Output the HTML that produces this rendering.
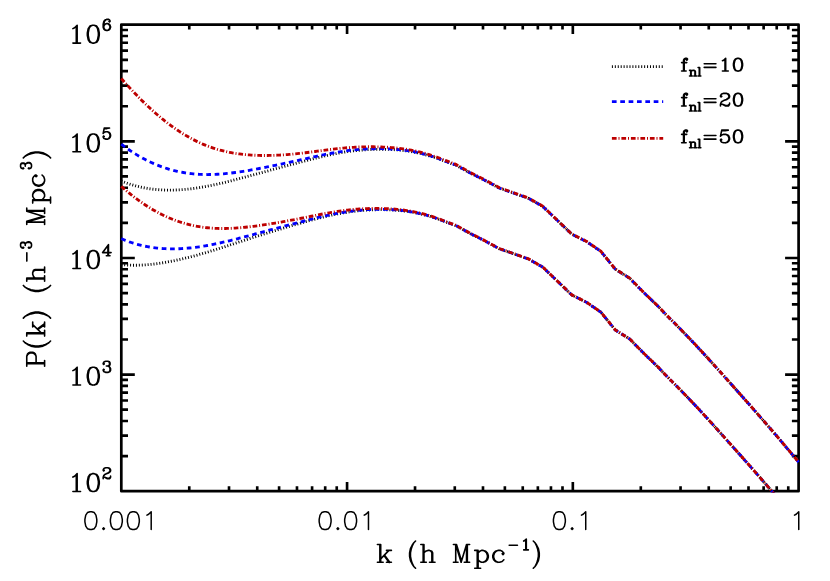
<!DOCTYPE html>
<html><head><meta charset="utf-8"><title>P(k)</title>
<style>html,body{margin:0;padding:0;background:#fff;font-family:"Liberation Sans",sans-serif}svg{display:block}</style></head>
<body>
<svg width="830" height="581" viewBox="0 0 830 581" role="img" aria-label="Log-log plot of P(k) (h^-3 Mpc^3) versus k (h Mpc^-1) for f_nl=10, 20, 50">
<title>P(k) (h^-3 Mpc^3) vs k (h Mpc^-1)</title><desc>Two families of halo power spectra with scale-dependent bias. Legend: f_nl=10 (black dotted), f_nl=20 (blue dashed), f_nl=50 (red dash-dot). x axis 0.001 to 1, y axis 10^2 to 10^6.</desc>
<rect width="830" height="581" fill="#fff"/>
<defs><clipPath id="c"><rect x="119.8" y="23.3" width="680.3000000000001" height="469.3"/></clipPath></defs>
<rect x="121.3" y="24.7" width="677.3" height="466.5" fill="none" stroke="#000" stroke-width="2.7" stroke-linejoin="round"/>
<path d="M121.3,456.09h6.7M798.6,456.09h-6.7M121.3,435.56h6.7M798.6,435.56h-6.7M121.3,420.98h6.7M798.6,420.98h-6.7M121.3,409.68h6.7M798.6,409.68h-6.7M121.3,400.45h6.7M798.6,400.45h-6.7M121.3,392.64h6.7M798.6,392.64h-6.7M121.3,385.88h6.7M798.6,385.88h-6.7M121.3,379.91h6.7M798.6,379.91h-6.7M121.3,374.57h13.5M798.6,374.57h-13.5M121.3,339.47h6.7M798.6,339.47h-6.7M121.3,318.93h6.7M798.6,318.93h-6.7M121.3,304.36h6.7M798.6,304.36h-6.7M121.3,293.06h6.7M798.6,293.06h-6.7M121.3,283.82h6.7M798.6,283.82h-6.7M121.3,276.02h6.7M798.6,276.02h-6.7M121.3,269.25h6.7M798.6,269.25h-6.7M121.3,263.29h6.7M798.6,263.29h-6.7M121.3,257.95h13.5M798.6,257.95h-13.5M121.3,222.84h6.7M798.6,222.84h-6.7M121.3,202.31h6.7M798.6,202.31h-6.7M121.3,187.73h6.7M798.6,187.73h-6.7M121.3,176.43h6.7M798.6,176.43h-6.7M121.3,167.2h6.7M798.6,167.2h-6.7M121.3,159.39h6.7M798.6,159.39h-6.7M121.3,152.63h6.7M798.6,152.63h-6.7M121.3,146.66h6.7M798.6,146.66h-6.7M121.3,141.32h13.5M798.6,141.32h-13.5M121.3,106.22h6.7M798.6,106.22h-6.7M121.3,85.68h6.7M798.6,85.68h-6.7M121.3,71.11h6.7M798.6,71.11h-6.7M121.3,59.81h6.7M798.6,59.81h-6.7M121.3,50.57h6.7M798.6,50.57h-6.7M121.3,42.77h6.7M798.6,42.77h-6.7M121.3,36h6.7M798.6,36h-6.7M121.3,30.04h6.7M798.6,30.04h-6.7M189.26,491.2v-4.85M189.26,24.7v4.85M229.02,491.2v-4.85M229.02,24.7v4.85M257.23,491.2v-4.85M257.23,24.7v4.85M279.1,491.2v-4.85M279.1,24.7v4.85M296.98,491.2v-4.85M296.98,24.7v4.85M312.09,491.2v-4.85M312.09,24.7v4.85M325.19,491.2v-4.85M325.19,24.7v4.85M336.74,491.2v-4.85M336.74,24.7v4.85M347.07,491.2v-9.3M347.07,24.7v9.3M415.03,491.2v-4.85M415.03,24.7v4.85M454.78,491.2v-4.85M454.78,24.7v4.85M482.99,491.2v-4.85M482.99,24.7v4.85M504.87,491.2v-4.85M504.87,24.7v4.85M522.75,491.2v-4.85M522.75,24.7v4.85M537.86,491.2v-4.85M537.86,24.7v4.85M550.95,491.2v-4.85M550.95,24.7v4.85M562.5,491.2v-4.85M562.5,24.7v4.85M572.83,491.2v-9.3M572.83,24.7v9.3M640.8,491.2v-4.85M640.8,24.7v4.85M680.55,491.2v-4.85M680.55,24.7v4.85M708.76,491.2v-4.85M708.76,24.7v4.85M730.64,491.2v-4.85M730.64,24.7v4.85M748.51,491.2v-4.85M748.51,24.7v4.85M763.63,491.2v-4.85M763.63,24.7v4.85M776.72,491.2v-4.85M776.72,24.7v4.85M788.27,491.2v-4.85M788.27,24.7v4.85" stroke="#000" stroke-width="2.65" fill="none"/>
<path d="M72.90,28.65 L74.60,27.80 L77.15,25.25 L77.15,43.10 M76.30,26.10 L76.30,43.10 M72.90,43.10 L80.55,43.10 M92.45,25.25 L89.90,26.10 L88.20,28.65 L87.35,32.90 L87.35,35.45 L88.20,39.70 L89.90,42.25 L92.45,43.10 L94.15,43.10 L96.70,42.25 L98.40,39.70 L99.25,35.45 L99.25,32.90 L98.40,28.65 L96.70,26.10 L94.15,25.25 L92.45,25.25 M92.45,25.25 L90.75,26.10 L89.90,26.95 L89.05,28.65 L88.20,32.90 L88.20,35.45 L89.05,39.70 L89.90,41.40 L90.75,42.25 L92.45,43.10 M94.15,43.10 L95.85,42.25 L96.70,41.40 L97.55,39.70 L98.40,35.45 L98.40,32.90 L97.55,28.65 L96.70,26.95 L95.85,26.10 L94.15,25.25 M109.50,20.91 L108.98,21.44 L109.50,21.97 L110.03,21.44 L110.03,20.91 L109.50,19.86 L108.45,19.33 L106.87,19.33 L105.29,19.86 L104.23,20.91 L103.71,21.97 L103.18,24.08 L103.18,27.24 L103.71,28.82 L104.76,29.87 L106.34,30.40 L107.40,30.40 L108.98,29.87 L110.03,28.82 L110.56,27.24 L110.56,26.71 L110.03,25.13 L108.98,24.08 L107.40,23.55 L106.87,23.55 L105.29,24.08 L104.23,25.13 L103.71,26.71 M106.87,19.33 L105.82,19.86 L104.76,20.91 L104.23,21.97 L103.71,24.08 L103.71,27.24 L104.23,28.82 L105.29,29.87 L106.34,30.40 M107.40,30.40 L108.45,29.87 L109.50,28.82 L110.03,27.24 L110.03,26.71 L109.50,25.13 L108.45,24.08 L107.40,23.55 M72.90,137.38 L74.60,136.52 L77.15,133.97 L77.15,151.82 M76.30,134.82 L76.30,151.82 M72.90,151.82 L80.55,151.82 M92.45,133.97 L89.90,134.82 L88.20,137.38 L87.35,141.62 L87.35,144.17 L88.20,148.42 L89.90,150.97 L92.45,151.82 L94.15,151.82 L96.70,150.97 L98.40,148.42 L99.25,144.17 L99.25,141.62 L98.40,137.38 L96.70,134.82 L94.15,133.97 L92.45,133.97 M92.45,133.97 L90.75,134.82 L89.90,135.67 L89.05,137.38 L88.20,141.62 L88.20,144.17 L89.05,148.42 L89.90,150.12 L90.75,150.97 L92.45,151.82 M94.15,151.82 L95.85,150.97 L96.70,150.12 L97.55,148.42 L98.40,144.17 L98.40,141.62 L97.55,137.38 L96.70,135.67 L95.85,134.82 L94.15,133.97 M104.23,128.06 L103.18,133.33 M103.18,133.33 L104.23,132.27 L105.82,131.75 L107.40,131.75 L108.98,132.27 L110.03,133.33 L110.56,134.91 L110.56,135.96 L110.03,137.54 L108.98,138.60 L107.40,139.12 L105.82,139.12 L104.23,138.60 L103.71,138.07 L103.18,137.02 L103.18,136.49 L103.71,135.96 L104.23,136.49 L103.71,137.02 M107.40,131.75 L108.45,132.27 L109.50,133.33 L110.03,134.91 L110.03,135.96 L109.50,137.54 L108.45,138.60 L107.40,139.12 M104.23,128.06 L109.50,128.06 M104.23,128.59 L106.87,128.59 L109.50,128.06 M72.90,254.00 L74.60,253.15 L77.15,250.60 L77.15,268.45 M76.30,251.45 L76.30,268.45 M72.90,268.45 L80.55,268.45 M92.45,250.60 L89.90,251.45 L88.20,254.00 L87.35,258.25 L87.35,260.80 L88.20,265.05 L89.90,267.60 L92.45,268.45 L94.15,268.45 L96.70,267.60 L98.40,265.05 L99.25,260.80 L99.25,258.25 L98.40,254.00 L96.70,251.45 L94.15,250.60 L92.45,250.60 M92.45,250.60 L90.75,251.45 L89.90,252.30 L89.05,254.00 L88.20,258.25 L88.20,260.80 L89.05,265.05 L89.90,266.75 L90.75,267.60 L92.45,268.45 M94.15,268.45 L95.85,267.60 L96.70,266.75 L97.55,265.05 L98.40,260.80 L98.40,258.25 L97.55,254.00 L96.70,252.30 L95.85,251.45 L94.15,250.60 M107.92,245.74 L107.92,255.75 M108.45,244.68 L108.45,255.75 M108.45,244.68 L102.65,252.59 L111.09,252.59 M106.34,255.75 L110.03,255.75 M72.90,370.62 L74.60,369.77 L77.15,367.22 L77.15,385.07 M76.30,368.07 L76.30,385.07 M72.90,385.07 L80.55,385.07 M92.45,367.22 L89.90,368.07 L88.20,370.62 L87.35,374.88 L87.35,377.43 L88.20,381.68 L89.90,384.22 L92.45,385.07 L94.15,385.07 L96.70,384.22 L98.40,381.68 L99.25,377.43 L99.25,374.88 L98.40,370.62 L96.70,368.07 L94.15,367.22 L92.45,367.22 M92.45,367.22 L90.75,368.07 L89.90,368.93 L89.05,370.62 L88.20,374.88 L88.20,377.43 L89.05,381.68 L89.90,383.38 L90.75,384.22 L92.45,385.07 M94.15,385.07 L95.85,384.22 L96.70,383.38 L97.55,381.68 L98.40,377.43 L98.40,374.88 L97.55,370.62 L96.70,368.93 L95.85,368.07 L94.15,367.22 M103.71,363.42 L104.23,363.94 L103.71,364.47 L103.18,363.94 L103.18,363.42 L103.71,362.36 L104.23,361.83 L105.82,361.31 L107.92,361.31 L109.50,361.83 L110.03,362.89 L110.03,364.47 L109.50,365.52 L107.92,366.05 L106.34,366.05 M107.92,361.31 L108.98,361.83 L109.50,362.89 L109.50,364.47 L108.98,365.52 L107.92,366.05 M107.92,366.05 L108.98,366.58 L110.03,367.63 L110.56,368.69 L110.56,370.27 L110.03,371.32 L109.50,371.85 L107.92,372.38 L105.82,372.38 L104.23,371.85 L103.71,371.32 L103.18,370.27 L103.18,369.74 L103.71,369.21 L104.23,369.74 L103.71,370.27 M109.50,367.11 L110.03,368.69 L110.03,370.27 L109.50,371.32 L108.98,371.85 L107.92,372.38 M72.90,477.05 L74.60,476.20 L77.15,473.65 L77.15,491.50 M76.30,474.50 L76.30,491.50 M72.90,491.50 L80.55,491.50 M92.45,473.65 L89.90,474.50 L88.20,477.05 L87.35,481.30 L87.35,483.85 L88.20,488.10 L89.90,490.65 L92.45,491.50 L94.15,491.50 L96.70,490.65 L98.40,488.10 L99.25,483.85 L99.25,481.30 L98.40,477.05 L96.70,474.50 L94.15,473.65 L92.45,473.65 M92.45,473.65 L90.75,474.50 L89.90,475.35 L89.05,477.05 L88.20,481.30 L88.20,483.85 L89.05,488.10 L89.90,489.80 L90.75,490.65 L92.45,491.50 M94.15,491.50 L95.85,490.65 L96.70,489.80 L97.55,488.10 L98.40,483.85 L98.40,481.30 L97.55,477.05 L96.70,475.35 L95.85,474.50 L94.15,473.65 M103.71,469.84 L104.23,470.37 L103.71,470.90 L103.18,470.37 L103.18,469.84 L103.71,468.79 L104.23,468.26 L105.82,467.73 L107.92,467.73 L109.50,468.26 L110.03,468.79 L110.56,469.84 L110.56,470.90 L110.03,471.95 L108.45,473.00 L105.82,474.06 L104.76,474.58 L103.71,475.64 L103.18,477.22 L103.18,478.80 M107.92,467.73 L108.98,468.26 L109.50,468.79 L110.03,469.84 L110.03,470.90 L109.50,471.95 L107.92,473.00 L105.82,474.06 M103.18,477.75 L103.71,477.22 L104.76,477.22 L107.40,478.27 L108.98,478.27 L110.03,477.75 L110.56,477.22 M104.76,477.22 L107.40,478.80 L109.50,478.80 L110.03,478.27 L110.56,477.22 L110.56,476.17" fill="none" stroke="#000" stroke-width="1.6" stroke-linecap="round" stroke-linejoin="round"/>
<path d="M90.00,511.70 L87.45,512.55 L85.75,515.10 L84.90,519.35 L84.90,521.90 L85.75,526.15 L87.45,528.70 L90.00,529.55 L91.70,529.55 L94.25,528.70 L95.95,526.15 L96.80,521.90 L96.80,519.35 L95.95,515.10 L94.25,512.55 L91.70,511.70 L90.00,511.70 M103.60,527.85 L102.75,528.70 L103.60,529.55 L104.45,528.70 L103.60,527.85 M115.50,511.70 L112.95,512.55 L111.25,515.10 L110.40,519.35 L110.40,521.90 L111.25,526.15 L112.95,528.70 L115.50,529.55 L117.20,529.55 L119.75,528.70 L121.45,526.15 L122.30,521.90 L122.30,519.35 L121.45,515.10 L119.75,512.55 L117.20,511.70 L115.50,511.70 M132.50,511.70 L129.95,512.55 L128.25,515.10 L127.40,519.35 L127.40,521.90 L128.25,526.15 L129.95,528.70 L132.50,529.55 L134.20,529.55 L136.75,528.70 L138.45,526.15 L139.30,521.90 L139.30,519.35 L138.45,515.10 L136.75,512.55 L134.20,511.70 L132.50,511.70 M146.95,515.10 L148.65,514.25 L151.20,511.70 L151.20,529.55 M324.27,511.70 L321.72,512.55 L320.02,515.10 L319.17,519.35 L319.17,521.90 L320.02,526.15 L321.72,528.70 L324.27,529.55 L325.97,529.55 L328.52,528.70 L330.22,526.15 L331.07,521.90 L331.07,519.35 L330.22,515.10 L328.52,512.55 L325.97,511.70 L324.27,511.70 M337.87,527.85 L337.02,528.70 L337.87,529.55 L338.72,528.70 L337.87,527.85 M349.77,511.70 L347.22,512.55 L345.52,515.10 L344.67,519.35 L344.67,521.90 L345.52,526.15 L347.22,528.70 L349.77,529.55 L351.47,529.55 L354.02,528.70 L355.72,526.15 L356.57,521.90 L356.57,519.35 L355.72,515.10 L354.02,512.55 L351.47,511.70 L349.77,511.70 M364.22,515.10 L365.92,514.25 L368.47,511.70 L368.47,529.55 M558.53,511.70 L555.98,512.55 L554.28,515.10 L553.43,519.35 L553.43,521.90 L554.28,526.15 L555.98,528.70 L558.53,529.55 L560.23,529.55 L562.78,528.70 L564.48,526.15 L565.33,521.90 L565.33,519.35 L564.48,515.10 L562.78,512.55 L560.23,511.70 L558.53,511.70 M572.13,527.85 L571.28,528.70 L572.13,529.55 L572.98,528.70 L572.13,527.85 M581.48,515.10 L583.18,514.25 L585.73,511.70 L585.73,529.55 M794.50,515.10 L796.20,514.25 L798.75,511.70 L798.75,529.55" fill="none" stroke="#000" stroke-width="1.5" stroke-linecap="round" stroke-linejoin="round"/>
<path d="M379.87,544.45 L379.87,562.30 M380.70,544.45 L380.70,562.30 M388.94,550.40 L380.70,558.90 M384.82,555.50 L389.77,562.30 M384.00,555.50 L388.94,562.30 M377.40,544.45 L380.70,544.45 M386.47,550.40 L391.42,550.40 M377.40,562.30 L383.17,562.30 M386.47,562.30 L391.42,562.30 M415.55,541.05 L413.85,542.75 L412.15,545.30 L410.45,548.70 L409.60,552.95 L409.60,556.35 L410.45,560.60 L412.15,564.00 L413.85,566.55 L415.55,568.25 M413.85,542.75 L412.15,546.15 L411.30,548.70 L410.45,552.95 L410.45,556.35 L411.30,560.60 L412.15,563.15 L413.85,566.55 M423.17,544.45 L423.17,562.30 M423.96,544.45 L423.96,562.30 M423.96,552.95 L425.54,551.25 L427.91,550.40 L429.50,550.40 L431.87,551.25 L432.66,552.95 L432.66,562.30 M429.50,550.40 L431.08,551.25 L431.87,552.95 L431.87,562.30 M420.80,544.45 L423.96,544.45 M420.80,562.30 L426.33,562.30 M429.50,562.30 L435.03,562.30 M455.72,544.45 L455.72,562.30 M456.49,544.45 L461.13,559.75 M455.72,544.45 L461.13,562.30 M466.55,544.45 L461.13,562.30 M466.55,544.45 L466.55,562.30 M467.32,544.45 L467.32,562.30 M453.40,544.45 L456.49,544.45 M466.55,544.45 L469.64,544.45 M453.40,562.30 L458.04,562.30 M464.23,562.30 L469.64,562.30 M477.25,550.40 L477.25,568.25 M478.10,550.40 L478.10,568.25 M478.10,552.95 L479.80,551.25 L481.50,550.40 L483.20,550.40 L485.75,551.25 L487.45,552.95 L488.30,555.50 L488.30,557.20 L487.45,559.75 L485.75,561.45 L483.20,562.30 L481.50,562.30 L479.80,561.45 L478.10,559.75 M483.20,550.40 L484.90,551.25 L486.60,552.95 L487.45,555.50 L487.45,557.20 L486.60,559.75 L484.90,561.45 L483.20,562.30 M474.70,550.40 L478.10,550.40 M474.70,568.25 L480.65,568.25 M503.00,552.95 L502.15,553.80 L503.00,554.65 L503.85,553.80 L503.85,552.95 L502.15,551.25 L500.45,550.40 L497.90,550.40 L495.35,551.25 L493.65,552.95 L492.80,555.50 L492.80,557.20 L493.65,559.75 L495.35,561.45 L497.90,562.30 L499.60,562.30 L502.15,561.45 L503.85,559.75 M497.90,550.40 L496.20,551.25 L494.50,552.95 L493.65,555.50 L493.65,557.20 L494.50,559.75 L496.20,561.45 L497.90,562.30 M509.20,545.22 L517.44,545.22 M523.70,541.06 L524.74,540.54 L526.30,538.98 L526.30,549.90 M525.78,539.50 L525.78,549.90 M523.70,549.90 L528.38,549.90 M533.30,541.05 L535.00,542.75 L536.70,545.30 L538.40,548.70 L539.25,552.95 L539.25,556.35 L538.40,560.60 L536.70,564.00 L535.00,566.55 L533.30,568.25 M535.00,542.75 L536.70,546.15 L537.55,548.70 L538.40,552.95 L538.40,556.35 L537.55,560.60 L536.70,563.15 L535.00,566.55" fill="none" stroke="#000" stroke-width="1.6" stroke-linecap="round" stroke-linejoin="round"/>
<path d="M-363.73,-17.85 L-363.73,0.00 M-362.90,-17.85 L-362.90,0.00 M-366.20,-17.85 L-356.31,-17.85 L-353.83,-17.00 L-353.01,-16.15 L-352.18,-14.45 L-352.18,-11.90 L-353.01,-10.20 L-353.83,-9.35 L-356.31,-8.50 L-362.90,-8.50 M-356.31,-17.85 L-354.66,-17.00 L-353.83,-16.15 L-353.01,-14.45 L-353.01,-11.90 L-353.83,-10.20 L-354.66,-9.35 L-356.31,-8.50 M-366.20,0.00 L-360.43,0.00 M-341.05,-21.25 L-342.75,-19.55 L-344.45,-17.00 L-346.15,-13.60 L-347.00,-9.35 L-347.00,-5.95 L-346.15,-1.70 L-344.45,1.70 L-342.75,4.25 L-341.05,5.95 M-342.75,-19.55 L-344.45,-16.15 L-345.30,-13.60 L-346.15,-9.35 L-346.15,-5.95 L-345.30,-1.70 L-344.45,0.85 L-342.75,4.25 M-333.63,-17.85 L-333.63,0.00 M-332.80,-17.85 L-332.80,0.00 M-324.56,-11.90 L-332.80,-3.40 M-328.68,-6.80 L-323.73,0.00 M-329.50,-6.80 L-324.56,0.00 M-336.10,-17.85 L-332.80,-17.85 M-327.03,-11.90 L-322.08,-11.90 M-336.10,0.00 L-330.33,0.00 M-327.03,0.00 L-322.08,0.00 M-318.10,-21.25 L-316.40,-19.55 L-314.70,-17.00 L-313.00,-13.60 L-312.15,-9.35 L-312.15,-5.95 L-313.00,-1.70 L-314.70,1.70 L-316.40,4.25 L-318.10,5.95 M-316.40,-19.55 L-314.70,-16.15 L-313.85,-13.60 L-313.00,-9.35 L-313.00,-5.95 L-313.85,-1.70 L-314.70,0.85 L-316.40,4.25 M-285.45,-21.25 L-287.15,-19.55 L-288.85,-17.00 L-290.55,-13.60 L-291.40,-9.35 L-291.40,-5.95 L-290.55,-1.70 L-288.85,1.70 L-287.15,4.25 L-285.45,5.95 M-287.15,-19.55 L-288.85,-16.15 L-289.70,-13.60 L-290.55,-9.35 L-290.55,-5.95 L-289.70,-1.70 L-288.85,0.85 L-287.15,4.25 M-278.93,-17.85 L-278.93,0.00 M-278.14,-17.85 L-278.14,0.00 M-278.14,-9.35 L-276.56,-11.05 L-274.19,-11.90 L-272.60,-11.90 L-270.23,-11.05 L-269.44,-9.35 L-269.44,0.00 M-272.60,-11.90 L-271.02,-11.05 L-270.23,-9.35 L-270.23,0.00 M-281.30,-17.85 L-278.14,-17.85 M-281.30,0.00 L-275.77,0.00 M-272.60,0.00 L-267.07,0.00 M-261.10,-17.78 L-252.86,-17.78 M-247.66,-21.94 L-247.22,-21.42 L-247.66,-20.90 L-248.10,-21.42 L-248.10,-21.94 L-247.66,-22.98 L-247.22,-23.50 L-245.89,-24.02 L-244.12,-24.02 L-242.80,-23.50 L-242.35,-22.46 L-242.35,-20.90 L-242.80,-19.86 L-244.12,-19.34 L-245.45,-19.34 M-244.12,-24.02 L-243.24,-23.50 L-242.80,-22.46 L-242.80,-20.90 L-243.24,-19.86 L-244.12,-19.34 M-244.12,-19.34 L-243.24,-18.82 L-242.35,-17.78 L-241.91,-16.74 L-241.91,-15.18 L-242.35,-14.14 L-242.80,-13.62 L-244.12,-13.10 L-245.89,-13.10 L-247.22,-13.62 L-247.66,-14.14 L-248.10,-15.18 L-248.10,-15.70 L-247.66,-16.22 L-247.22,-15.70 L-247.66,-15.18 M-242.80,-18.30 L-242.35,-16.74 L-242.35,-15.18 L-242.80,-14.14 L-243.24,-13.62 L-244.12,-13.10 M-222.08,-17.85 L-222.08,0.00 M-221.31,-17.85 L-216.66,-2.55 M-222.08,-17.85 L-216.66,0.00 M-211.25,-17.85 L-216.66,0.00 M-211.25,-17.85 L-211.25,0.00 M-210.48,-17.85 L-210.48,0.00 M-224.40,-17.85 L-221.31,-17.85 M-211.25,-17.85 L-208.16,-17.85 M-224.40,0.00 L-219.76,0.00 M-213.57,0.00 L-208.16,0.00 M-200.55,-11.90 L-200.55,5.95 M-199.70,-11.90 L-199.70,5.95 M-199.70,-9.35 L-198.00,-11.05 L-196.30,-11.90 L-194.60,-11.90 L-192.05,-11.05 L-190.35,-9.35 L-189.50,-6.80 L-189.50,-5.10 L-190.35,-2.55 L-192.05,-0.85 L-194.60,0.00 L-196.30,0.00 L-198.00,-0.85 L-199.70,-2.55 M-194.60,-11.90 L-192.90,-11.05 L-191.20,-9.35 L-190.35,-6.80 L-190.35,-5.10 L-191.20,-2.55 L-192.90,-0.85 L-194.60,0.00 M-203.10,-11.90 L-199.70,-11.90 M-203.10,5.95 L-197.15,5.95 M-175.90,-9.35 L-176.75,-8.50 L-175.90,-7.65 L-175.05,-8.50 L-175.05,-9.35 L-176.75,-11.05 L-178.45,-11.90 L-181.00,-11.90 L-183.55,-11.05 L-185.25,-9.35 L-186.10,-6.80 L-186.10,-5.10 L-185.25,-2.55 L-183.55,-0.85 L-181.00,0.00 L-179.30,0.00 L-176.75,-0.85 L-175.05,-2.55 M-181.00,-11.90 L-182.70,-11.05 L-184.40,-9.35 L-185.25,-6.80 L-185.25,-5.10 L-184.40,-2.55 L-182.70,-0.85 L-181.00,0.00 M-168.36,-21.94 L-167.92,-21.42 L-168.36,-20.90 L-168.80,-21.42 L-168.80,-21.94 L-168.36,-22.98 L-167.92,-23.50 L-166.59,-24.02 L-164.82,-24.02 L-163.50,-23.50 L-163.05,-22.46 L-163.05,-20.90 L-163.50,-19.86 L-164.82,-19.34 L-166.15,-19.34 M-164.82,-24.02 L-163.94,-23.50 L-163.50,-22.46 L-163.50,-20.90 L-163.94,-19.86 L-164.82,-19.34 M-164.82,-19.34 L-163.94,-18.82 L-163.05,-17.78 L-162.61,-16.74 L-162.61,-15.18 L-163.05,-14.14 L-163.50,-13.62 L-164.82,-13.10 L-166.59,-13.10 L-167.92,-13.62 L-168.36,-14.14 L-168.80,-15.18 L-168.80,-15.70 L-168.36,-16.22 L-167.92,-15.70 L-168.36,-15.18 M-163.50,-18.30 L-163.05,-16.74 L-163.05,-15.18 L-163.50,-14.14 L-163.94,-13.62 L-164.82,-13.10 M-157.90,-21.25 L-156.20,-19.55 L-154.50,-17.00 L-152.80,-13.60 L-151.95,-9.35 L-151.95,-5.95 L-152.80,-1.70 L-154.50,1.70 L-156.20,4.25 L-157.90,5.95 M-156.20,-19.55 L-154.50,-16.15 L-153.65,-13.60 L-152.80,-9.35 L-152.80,-5.95 L-153.65,-1.70 L-154.50,0.85 L-156.20,4.25" fill="none" stroke="#000" stroke-width="1.6" stroke-linecap="round" stroke-linejoin="round" transform="translate(44.6,0) rotate(-90)"/>
<g clip-path="url(#c)" fill="none" stroke-linecap="butt" stroke-linejoin="round">
<path d="M121.3,181.01 L123.3,181.81 L125.3,182.57 L127.3,183.29 L129.3,183.97 L131.3,184.61 L133.3,185.21 L135.3,185.78 L137.3,186.3 L139.3,186.79 L141.3,187.24 L143.3,187.66 L145.3,188.04 L147.3,188.38 L149.3,188.69 L151.3,188.97 L153.3,189.22 L155.3,189.43 L157.3,189.61 L159.3,189.77 L161.3,189.89 L163.3,189.99 L165.3,190.06 L167.3,190.1 L169.3,190.11 L171.3,190.1 L173.3,190.07 L175.3,190.01 L177.3,189.93 L179.3,189.82 L181.3,189.69 L183.3,189.54 L185.3,189.37 L187.3,189.17 L189.3,188.96 L191.3,188.73 L193.3,188.48 L195.3,188.2 L197.3,187.91 L199.3,187.61 L201.3,187.28 L203.3,186.94 L205.3,186.59 L207.3,186.22 L209.3,185.83 L211.3,185.43 L213.3,185.01 L215.3,184.58 L217.3,184.14 L219.3,183.69 L221.3,183.23 L223.3,182.75 L225.3,182.27 L227.3,181.78 L229.3,181.28 L231.3,180.77 L233.3,180.25 L235.3,179.73 L237.3,179.21 L239.3,178.68 L241.3,178.14 L243.3,177.6 L245.3,177.06 L247.3,176.51 L249.3,175.97 L251.3,175.42 L253.3,174.87 L255.3,174.32 L257.3,173.78 L259.3,173.23 L261.3,172.68 L263.3,172.13 L265.3,171.59 L267.3,171.04 L269.3,170.5 L271.3,169.95 L273.3,169.41 L275.3,168.87 L277.3,168.33 L279.3,167.79 L281.3,167.25 L283.3,166.71 L285.3,166.17 L287.3,165.64 L289.3,165.1 L291.3,164.57 L293.3,164.04 L295.3,163.5 L297.3,162.97 L299.3,162.44 L301.3,161.91 L303.3,161.39 L305.3,160.86 L307.3,160.34 L309.3,159.82 L311.3,159.31 L313.3,158.8 L315.3,158.29 L317.3,157.8 L319.3,157.31 L321.3,156.83 L323.3,156.36 L325.3,155.9 L327.3,155.45 L329.3,155.01 L331.3,154.58 L333.3,154.16 L335.3,153.76 L337.3,153.38 L339.3,153.01 L341.3,152.65 L343.3,152.31 L345.3,151.99 L347.3,151.69 L349.3,151.41 L351.3,151.14 L353.3,150.89 L355.3,150.66 L357.3,150.45 L359.3,150.26 L361.3,150.08 L363.3,149.92 L365.3,149.78 L367.3,149.66 L369.3,149.55 L371.3,149.46 L373.3,149.39 L375.3,149.33 L377.3,149.3 L379.3,149.28 L381.3,149.28 L383.3,149.3 L385.3,149.33 L387.3,149.38 L389.3,149.45 L391.3,149.54 L393.3,149.65 L395.3,149.78 L397.3,149.93 L399.3,150.1 L401.3,150.3 L403.3,150.52 L405.3,150.76 L407.3,151.03 L409.3,151.33 L411.3,151.65 L413.3,152 L415.3,152.38 L417.3,152.78 L419.3,153.21 L421.3,153.68 L423.3,154.17 L425.3,154.68 L427.3,155.23 L429.3,155.8 L431.3,156.4 L433.3,157.03 L435.3,157.68 L437.3,158.36 L439.3,159.06 L441.3,159.81 L441.3,159.81 L443.3,160.59 L445.3,161.37 L447.3,162.13 L449.3,162.87 L451.3,163.57 L453.3,164.26 L455.3,164.97 L455.8,165.15 L457.3,165.98 L459.3,167.08 L461.3,168.18 L463.3,169.28 L465.3,170.38 L467.3,171.48 L469.3,172.58 L470.3,173.14 L471.3,173.64 L473.3,174.64 L475.3,175.64 L477.3,176.64 L479.3,177.64 L481.3,178.64 L483.3,179.64 L484.8,180.4 L485.3,180.66 L487.3,181.74 L489.3,182.82 L491.3,183.9 L493.3,184.97 L495.3,186.05 L497.3,187.13 L499.3,188.21 L499.3,188.21 L501.3,188.9 L503.3,189.59 L505.3,190.28 L507.3,190.97 L509.3,191.66 L511.3,192.35 L513.3,193.04 L513.8,193.21 L515.3,193.74 L517.3,194.44 L519.3,195.14 L521.3,195.85 L523.3,196.55 L525.3,197.26 L527.3,197.96 L528.3,198.31 L529.3,198.88 L531.3,200.01 L533.3,201.15 L535.3,202.28 L537.3,203.42 L539.3,204.55 L541.3,205.69 L542.8,206.54 L543.3,207.02 L545.3,208.93 L547.3,210.84 L549.3,212.76 L551.3,214.67 L553.3,216.58 L555.3,218.5 L557.3,220.41 L559.3,222.32 L561.3,224.24 L563.3,226.15 L565.3,228.07 L567.3,229.99 L569.3,231.9 L571.3,233.82 L571.8,234.3 L573.3,235.04 L575.3,236.03 L577.3,237.02 L579.3,238.01 L581.3,239 L583.3,239.99 L585.3,240.98 L586.3,241.48 L587.3,242.16 L589.3,243.53 L591.3,244.89 L593.3,246.26 L595.3,247.62 L597.3,248.99 L599.3,250.35 L600.8,251.38 L601.3,252 L603.3,254.46 L605.3,256.93 L607.3,259.39 L609.3,261.86 L611.3,264.32 L613.3,266.79 L615.3,269.25 L617.3,270.51 L619.3,271.77 L621.3,273.02 L623.3,274.28 L625.3,275.54 L627.3,276.8 L629.3,278.05 L629.8,278.37 L631.3,279.9 L633.3,281.93 L635.3,283.97 L637.3,286 L639.3,288.04 L641.3,290.07 L643.3,292.11 L644.3,293.13 L645.3,294.09 L647.3,296.01 L649.3,297.93 L651.3,299.85 L653.3,301.77 L655.3,303.69 L657.3,305.62 L658.8,307.06 L659.3,307.59 L661.3,309.74 L663.3,311.87 L665.3,313.96 L667.3,316.02 L669.3,318.03 L671.3,320 L673.3,321.98 L675.3,323.98 L677.3,326 L679.3,328.02 L681.3,330.06 L683.3,332.1 L685.3,334.17 L687.3,336.25 L689.3,338.34 L691.3,340.44 L693.3,342.56 L695.3,344.69 L697.3,346.83 L699.3,348.98 L701.3,351.14 L703.3,353.31 L705.3,355.49 L707.3,357.68 L709.3,359.87 L711.3,362.07 L713.3,364.28 L715.3,366.49 L717.3,368.71 L719.3,370.93 L721.3,373.16 L723.3,375.38 L725.3,377.61 L727.3,379.84 L729.3,382.08 L731.3,384.31 L733.3,386.55 L735.3,388.79 L737.3,391.03 L739.3,393.28 L741.3,395.53 L743.3,397.78 L745.3,400.04 L747.3,402.3 L749.3,404.56 L751.3,406.83 L753.3,409.1 L755.3,411.37 L757.3,413.65 L759.3,415.94 L761.3,418.23 L763.3,420.53 L765.3,422.83 L767.3,425.13 L769.3,427.45 L771.3,429.77 L773.3,432.09 L775.3,434.43 L777.3,436.76 L779.3,439.11 L781.3,441.46 L783.3,443.83 L785.3,446.2 L787.3,448.57 L789.3,450.96 L791.3,453.35 L793.3,455.75 L795.3,458.16 L797.3,460.58 L798.6,462.16" stroke="#000" stroke-width="2.85" stroke-dasharray="1,1.93"/>
<path d="M121.3,264.48 L123.3,264.69 L125.3,264.85 L127.3,264.99 L129.3,265.09 L131.3,265.16 L133.3,265.21 L135.3,265.22 L137.3,265.2 L139.3,265.15 L141.3,265.08 L143.3,264.98 L145.3,264.85 L147.3,264.7 L149.3,264.53 L151.3,264.33 L153.3,264.11 L155.3,263.87 L157.3,263.6 L159.3,263.32 L161.3,263.02 L163.3,262.7 L165.3,262.36 L167.3,262.01 L169.3,261.64 L171.3,261.26 L173.3,260.86 L175.3,260.44 L177.3,260.01 L179.3,259.57 L181.3,259.11 L183.3,258.64 L185.3,258.16 L187.3,257.67 L189.3,257.17 L191.3,256.65 L193.3,256.12 L195.3,255.59 L197.3,255.04 L199.3,254.48 L201.3,253.92 L203.3,253.34 L205.3,252.76 L207.3,252.17 L209.3,251.57 L211.3,250.97 L213.3,250.35 L215.3,249.73 L217.3,249.11 L219.3,248.47 L221.3,247.84 L223.3,247.2 L225.3,246.55 L227.3,245.9 L229.3,245.25 L231.3,244.6 L233.3,243.95 L235.3,243.29 L237.3,242.63 L239.3,241.98 L241.3,241.32 L243.3,240.67 L245.3,240.01 L247.3,239.36 L249.3,238.71 L251.3,238.06 L253.3,237.41 L255.3,236.77 L257.3,236.13 L259.3,235.5 L261.3,234.87 L263.3,234.24 L265.3,233.62 L267.3,233 L269.3,232.38 L271.3,231.77 L273.3,231.16 L275.3,230.56 L277.3,229.95 L279.3,229.35 L281.3,228.76 L283.3,228.17 L285.3,227.58 L287.3,226.99 L289.3,226.41 L291.3,225.83 L293.3,225.25 L295.3,224.67 L297.3,224.1 L299.3,223.53 L301.3,222.97 L303.3,222.4 L305.3,221.84 L307.3,221.29 L309.3,220.74 L311.3,220.19 L313.3,219.65 L315.3,219.12 L317.3,218.6 L319.3,218.09 L321.3,217.58 L323.3,217.09 L325.3,216.6 L327.3,216.13 L329.3,215.67 L331.3,215.22 L333.3,214.79 L335.3,214.37 L337.3,213.97 L339.3,213.58 L341.3,213.21 L343.3,212.86 L345.3,212.52 L347.3,212.21 L349.3,211.91 L351.3,211.64 L353.3,211.38 L355.3,211.14 L357.3,210.92 L359.3,210.71 L361.3,210.53 L363.3,210.36 L365.3,210.21 L367.3,210.08 L369.3,209.97 L371.3,209.87 L373.3,209.8 L375.3,209.74 L377.3,209.7 L379.3,209.68 L381.3,209.67 L383.3,209.69 L385.3,209.72 L387.3,209.77 L389.3,209.84 L391.3,209.93 L393.3,210.03 L395.3,210.16 L397.3,210.31 L399.3,210.48 L401.3,210.68 L403.3,210.9 L405.3,211.14 L407.3,211.41 L409.3,211.71 L411.3,212.04 L413.3,212.39 L415.3,212.77 L417.3,213.17 L419.3,213.61 L421.3,214.08 L423.3,214.57 L425.3,215.09 L427.3,215.64 L429.3,216.21 L431.3,216.82 L433.3,217.45 L435.3,218.11 L437.3,218.79 L439.3,219.5 L441.3,220.25 L441.3,220.25 L443.3,221.03 L445.3,221.81 L447.3,222.58 L449.3,223.32 L451.3,224.03 L453.3,224.73 L455.3,225.45 L455.8,225.63 L457.3,226.46 L459.3,227.56 L461.3,228.67 L463.3,229.78 L465.3,230.88 L467.3,231.99 L469.3,233.09 L470.3,233.65 L471.3,234.15 L473.3,235.16 L475.3,236.17 L477.3,237.17 L479.3,238.18 L481.3,239.19 L483.3,240.19 L484.8,240.95 L485.3,241.22 L487.3,242.3 L489.3,243.38 L491.3,244.47 L493.3,245.55 L495.3,246.63 L497.3,247.71 L499.3,248.79 L499.3,248.79 L501.3,249.49 L503.3,250.19 L505.3,250.88 L507.3,251.58 L509.3,252.27 L511.3,252.97 L513.3,253.66 L513.8,253.83 L515.3,254.37 L517.3,255.07 L519.3,255.78 L521.3,256.49 L523.3,257.2 L525.3,257.9 L527.3,258.61 L528.3,258.97 L529.3,259.54 L531.3,260.68 L533.3,261.81 L535.3,262.95 L537.3,264.09 L539.3,265.23 L541.3,266.37 L542.8,267.22 L543.3,267.7 L545.3,269.62 L547.3,271.54 L549.3,273.45 L551.3,275.37 L553.3,277.28 L555.3,279.2 L557.3,281.12 L559.3,283.04 L561.3,284.95 L563.3,286.87 L565.3,288.79 L567.3,290.71 L569.3,292.63 L571.3,294.54 L571.8,295.02 L573.3,295.77 L575.3,296.76 L577.3,297.75 L579.3,298.75 L581.3,299.74 L583.3,300.73 L585.3,301.73 L586.3,302.22 L587.3,302.91 L589.3,304.27 L591.3,305.64 L593.3,307.01 L595.3,308.38 L597.3,309.75 L599.3,311.11 L600.8,312.14 L601.3,312.76 L603.3,315.22 L605.3,317.69 L607.3,320.16 L609.3,322.62 L611.3,325.09 L613.3,327.55 L615.3,330.02 L617.3,331.28 L619.3,332.54 L621.3,333.8 L623.3,335.06 L625.3,336.32 L627.3,337.57 L629.3,338.83 L629.8,339.15 L631.3,340.68 L633.3,342.71 L635.3,344.75 L637.3,346.79 L639.3,348.82 L641.3,350.86 L643.3,352.89 L644.3,353.91 L645.3,354.87 L647.3,356.8 L649.3,358.72 L651.3,360.64 L653.3,362.56 L655.3,364.49 L657.3,366.41 L658.8,367.85 L659.3,368.38 L661.3,370.53 L663.3,372.66 L665.3,374.76 L667.3,376.81 L669.3,378.82 L671.3,380.79 L673.3,382.77 L675.3,384.78 L677.3,386.8 L679.3,388.82 L681.3,390.85 L683.3,392.9 L685.3,394.97 L687.3,397.05 L689.3,399.14 L691.3,401.24 L693.3,403.36 L695.3,405.49 L697.3,407.63 L699.3,409.78 L701.3,411.94 L703.3,414.11 L705.3,416.29 L707.3,418.48 L709.3,420.68 L711.3,422.88 L713.3,425.08 L715.3,427.3 L717.3,429.51 L719.3,431.73 L721.3,433.96 L723.3,436.19 L725.3,438.42 L727.3,440.65 L729.3,442.88 L731.3,445.12 L733.3,447.36 L735.3,449.6 L737.3,451.84 L739.3,454.09 L741.3,456.33 L743.3,458.59 L745.3,460.84 L747.3,463.1 L749.3,465.36 L751.3,467.63 L753.3,469.9 L755.3,472.18 L757.3,474.46 L759.3,476.75 L761.3,479.04 L763.3,481.33 L765.3,483.63 L767.3,485.94 L769.3,488.26 L771.3,490.57 L773.3,492.9 L775.3,495.23 L777.3,497.57 L779.3,499.92 L781.3,502.27 L783.3,504.63 L785.3,507 L787.3,509.38 L789.3,511.76 L791.3,514.16 L793.3,516.56 L795.3,518.97 L797.3,521.39 L798.6,522.97" stroke="#000" stroke-width="2.85" stroke-dasharray="1,1.93"/>
<path d="M121.3,144.22 L123.3,145.73 L125.3,147.19 L127.3,148.61 L129.3,150 L131.3,151.34 L133.3,152.64 L135.3,153.9 L137.3,155.12 L139.3,156.3 L141.3,157.43 L143.3,158.53 L145.3,159.59 L147.3,160.61 L149.3,161.59 L151.3,162.52 L153.3,163.42 L155.3,164.28 L157.3,165.11 L159.3,165.89 L161.3,166.64 L163.3,167.35 L165.3,168.02 L167.3,168.66 L169.3,169.27 L171.3,169.83 L173.3,170.37 L175.3,170.86 L177.3,171.33 L179.3,171.76 L181.3,172.16 L183.3,172.52 L185.3,172.86 L187.3,173.16 L189.3,173.43 L191.3,173.67 L193.3,173.88 L195.3,174.06 L197.3,174.21 L199.3,174.33 L201.3,174.43 L203.3,174.49 L205.3,174.54 L207.3,174.55 L209.3,174.54 L211.3,174.51 L213.3,174.45 L215.3,174.37 L217.3,174.26 L219.3,174.14 L221.3,173.99 L223.3,173.83 L225.3,173.64 L227.3,173.44 L229.3,173.22 L231.3,172.99 L233.3,172.74 L235.3,172.48 L237.3,172.2 L239.3,171.91 L241.3,171.6 L243.3,171.29 L245.3,170.97 L247.3,170.63 L249.3,170.29 L251.3,169.94 L253.3,169.58 L255.3,169.22 L257.3,168.85 L259.3,168.48 L261.3,168.09 L263.3,167.71 L265.3,167.32 L267.3,166.92 L269.3,166.52 L271.3,166.12 L273.3,165.71 L275.3,165.3 L277.3,164.88 L279.3,164.46 L281.3,164.04 L283.3,163.62 L285.3,163.19 L287.3,162.76 L289.3,162.32 L291.3,161.89 L293.3,161.45 L295.3,161.01 L297.3,160.56 L299.3,160.12 L301.3,159.67 L303.3,159.22 L305.3,158.77 L307.3,158.32 L309.3,157.87 L311.3,157.43 L313.3,156.98 L315.3,156.54 L317.3,156.11 L319.3,155.68 L321.3,155.25 L323.3,154.84 L325.3,154.43 L327.3,154.03 L329.3,153.64 L331.3,153.26 L333.3,152.89 L335.3,152.53 L337.3,152.18 L339.3,151.85 L341.3,151.54 L343.3,151.24 L345.3,150.95 L347.3,150.68 L349.3,150.43 L351.3,150.2 L353.3,149.98 L355.3,149.78 L357.3,149.6 L359.3,149.43 L361.3,149.28 L363.3,149.15 L365.3,149.03 L367.3,148.93 L369.3,148.85 L371.3,148.78 L373.3,148.73 L375.3,148.7 L377.3,148.68 L379.3,148.68 L381.3,148.7 L383.3,148.74 L385.3,148.79 L387.3,148.86 L389.3,148.94 L391.3,149.05 L393.3,149.17 L395.3,149.31 L397.3,149.48 L399.3,149.66 L401.3,149.87 L403.3,150.1 L405.3,150.36 L407.3,150.64 L409.3,150.94 L411.3,151.28 L413.3,151.64 L415.3,152.02 L417.3,152.44 L419.3,152.88 L421.3,153.35 L423.3,153.85 L425.3,154.37 L427.3,154.93 L429.3,155.51 L431.3,156.11 L433.3,156.75 L435.3,157.41 L437.3,158.09 L439.3,158.8 L441.3,159.56 L441.3,159.56 L443.3,160.34 L445.3,161.12 L447.3,161.89 L449.3,162.64 L451.3,163.34 L453.3,164.04 L455.3,164.76 L455.8,164.94 L457.3,165.77 L459.3,166.87 L461.3,167.98 L463.3,169.09 L465.3,170.19 L467.3,171.3 L469.3,172.4 L470.3,172.95 L471.3,173.46 L473.3,174.46 L475.3,175.47 L477.3,176.47 L479.3,177.48 L481.3,178.48 L483.3,179.49 L484.8,180.24 L485.3,180.51 L487.3,181.59 L489.3,182.67 L491.3,183.75 L493.3,184.83 L495.3,185.91 L497.3,186.99 L499.3,188.07 L499.3,188.07 L501.3,188.77 L503.3,189.46 L505.3,190.15 L507.3,190.85 L509.3,191.54 L511.3,192.23 L513.3,192.92 L513.8,193.1 L515.3,193.63 L517.3,194.33 L519.3,195.04 L521.3,195.74 L523.3,196.45 L525.3,197.15 L527.3,197.86 L528.3,198.21 L529.3,198.78 L531.3,199.92 L533.3,201.05 L535.3,202.19 L537.3,203.33 L539.3,204.46 L541.3,205.6 L542.8,206.45 L543.3,206.93 L545.3,208.85 L547.3,210.76 L549.3,212.68 L551.3,214.59 L553.3,216.5 L555.3,218.42 L557.3,220.33 L559.3,222.25 L561.3,224.17 L563.3,226.08 L565.3,228 L567.3,229.92 L569.3,231.83 L571.3,233.75 L571.8,234.23 L573.3,234.97 L575.3,235.96 L577.3,236.95 L579.3,237.95 L581.3,238.94 L583.3,239.93 L585.3,240.92 L586.3,241.42 L587.3,242.1 L589.3,243.47 L591.3,244.83 L593.3,246.2 L595.3,247.57 L597.3,248.93 L599.3,250.3 L600.8,251.32 L601.3,251.94 L603.3,254.41 L605.3,256.87 L607.3,259.34 L609.3,261.8 L611.3,264.27 L613.3,266.74 L615.3,269.2 L617.3,270.46 L619.3,271.72 L621.3,272.98 L623.3,274.23 L625.3,275.49 L627.3,276.75 L629.3,278.01 L629.8,278.32 L631.3,279.85 L633.3,281.89 L635.3,283.92 L637.3,285.96 L639.3,287.99 L641.3,290.03 L643.3,292.07 L644.3,293.08 L645.3,294.05 L647.3,295.97 L649.3,297.89 L651.3,299.81 L653.3,301.73 L655.3,303.66 L657.3,305.58 L658.8,307.02 L659.3,307.55 L661.3,309.7 L663.3,311.83 L665.3,313.93 L667.3,315.98 L669.3,317.99 L671.3,319.96 L673.3,321.94 L675.3,323.95 L677.3,325.96 L679.3,327.99 L681.3,330.02 L683.3,332.07 L685.3,334.14 L687.3,336.21 L689.3,338.31 L691.3,340.41 L693.3,342.53 L695.3,344.66 L697.3,346.8 L699.3,348.95 L701.3,351.11 L703.3,353.28 L705.3,355.46 L707.3,357.65 L709.3,359.84 L711.3,362.04 L713.3,364.25 L715.3,366.46 L717.3,368.68 L719.3,370.9 L721.3,373.13 L723.3,375.36 L725.3,377.59 L727.3,379.82 L729.3,382.05 L731.3,384.29 L733.3,386.52 L735.3,388.76 L737.3,391.01 L739.3,393.25 L741.3,395.5 L743.3,397.76 L745.3,400.01 L747.3,402.27 L749.3,404.53 L751.3,406.8 L753.3,409.07 L755.3,411.35 L757.3,413.63 L759.3,415.92 L761.3,418.21 L763.3,420.5 L765.3,422.8 L767.3,425.11 L769.3,427.43 L771.3,429.74 L773.3,432.07 L775.3,434.4 L777.3,436.74 L779.3,439.09 L781.3,441.44 L783.3,443.8 L785.3,446.17 L787.3,448.55 L789.3,450.94 L791.3,453.33 L793.3,455.73 L795.3,458.14 L797.3,460.56 L798.6,462.14" stroke="#0000ff" stroke-width="2.85" stroke-dasharray="4.7,3.66"/>
<path d="M121.3,238.65 L123.3,239.5 L125.3,240.31 L127.3,241.08 L129.3,241.82 L131.3,242.51 L133.3,243.16 L135.3,243.77 L137.3,244.34 L139.3,244.88 L141.3,245.38 L143.3,245.84 L145.3,246.26 L147.3,246.65 L149.3,247.01 L151.3,247.33 L153.3,247.62 L155.3,247.88 L157.3,248.1 L159.3,248.3 L161.3,248.46 L163.3,248.6 L165.3,248.7 L167.3,248.78 L169.3,248.84 L171.3,248.86 L173.3,248.86 L175.3,248.84 L177.3,248.79 L179.3,248.72 L181.3,248.62 L183.3,248.5 L185.3,248.36 L187.3,248.2 L189.3,248.01 L191.3,247.81 L193.3,247.58 L195.3,247.34 L197.3,247.07 L199.3,246.79 L201.3,246.49 L203.3,246.18 L205.3,245.85 L207.3,245.5 L209.3,245.13 L211.3,244.75 L213.3,244.36 L215.3,243.95 L217.3,243.53 L219.3,243.09 L221.3,242.65 L223.3,242.19 L225.3,241.73 L227.3,241.25 L229.3,240.77 L231.3,240.28 L233.3,239.78 L235.3,239.27 L237.3,238.76 L239.3,238.24 L241.3,237.72 L243.3,237.19 L245.3,236.67 L247.3,236.13 L249.3,235.6 L251.3,235.06 L253.3,234.53 L255.3,233.99 L257.3,233.45 L259.3,232.91 L261.3,232.38 L263.3,231.84 L265.3,231.3 L267.3,230.77 L269.3,230.23 L271.3,229.7 L273.3,229.16 L275.3,228.63 L277.3,228.1 L279.3,227.56 L281.3,227.03 L283.3,226.5 L285.3,225.97 L287.3,225.44 L289.3,224.92 L291.3,224.39 L293.3,223.86 L295.3,223.34 L297.3,222.81 L299.3,222.29 L301.3,221.77 L303.3,221.25 L305.3,220.73 L307.3,220.21 L309.3,219.7 L311.3,219.19 L313.3,218.69 L315.3,218.19 L317.3,217.7 L319.3,217.22 L321.3,216.74 L323.3,216.28 L325.3,215.82 L327.3,215.38 L329.3,214.94 L331.3,214.52 L333.3,214.11 L335.3,213.72 L337.3,213.33 L339.3,212.97 L341.3,212.62 L343.3,212.29 L345.3,211.97 L347.3,211.68 L349.3,211.4 L351.3,211.14 L353.3,210.9 L355.3,210.67 L357.3,210.47 L359.3,210.28 L361.3,210.11 L363.3,209.95 L365.3,209.82 L367.3,209.7 L369.3,209.6 L371.3,209.52 L373.3,209.45 L375.3,209.4 L377.3,209.37 L379.3,209.36 L381.3,209.37 L383.3,209.39 L385.3,209.43 L387.3,209.49 L389.3,209.57 L391.3,209.67 L393.3,209.78 L395.3,209.92 L397.3,210.07 L399.3,210.25 L401.3,210.45 L403.3,210.68 L405.3,210.93 L407.3,211.21 L409.3,211.51 L411.3,211.84 L413.3,212.2 L415.3,212.58 L417.3,212.99 L419.3,213.44 L421.3,213.9 L423.3,214.4 L425.3,214.93 L427.3,215.48 L429.3,216.06 L431.3,216.67 L433.3,217.3 L435.3,217.96 L437.3,218.65 L439.3,219.36 L441.3,220.12 L441.3,220.12 L443.3,220.9 L445.3,221.69 L447.3,222.46 L449.3,223.2 L451.3,223.91 L453.3,224.61 L455.3,225.33 L455.8,225.51 L457.3,226.35 L459.3,227.45 L461.3,228.56 L463.3,229.67 L465.3,230.78 L467.3,231.89 L469.3,233 L470.3,233.55 L471.3,234.06 L473.3,235.07 L475.3,236.07 L477.3,237.08 L479.3,238.09 L481.3,239.1 L483.3,240.11 L484.8,240.87 L485.3,241.14 L487.3,242.22 L489.3,243.31 L491.3,244.39 L493.3,245.47 L495.3,246.56 L497.3,247.64 L499.3,248.72 L499.3,248.72 L501.3,249.42 L503.3,250.12 L505.3,250.81 L507.3,251.51 L509.3,252.21 L511.3,252.9 L513.3,253.6 L513.8,253.77 L515.3,254.31 L517.3,255.02 L519.3,255.72 L521.3,256.43 L523.3,257.14 L525.3,257.85 L527.3,258.56 L528.3,258.91 L529.3,259.48 L531.3,260.62 L533.3,261.77 L535.3,262.91 L537.3,264.05 L539.3,265.19 L541.3,266.32 L542.8,267.18 L543.3,267.66 L545.3,269.58 L547.3,271.49 L549.3,273.41 L551.3,275.33 L553.3,277.24 L555.3,279.16 L557.3,281.08 L559.3,283 L561.3,284.91 L563.3,286.83 L565.3,288.75 L567.3,290.67 L569.3,292.59 L571.3,294.51 L571.8,294.99 L573.3,295.73 L575.3,296.73 L577.3,297.72 L579.3,298.71 L581.3,299.71 L583.3,300.7 L585.3,301.69 L586.3,302.19 L587.3,302.88 L589.3,304.24 L591.3,305.61 L593.3,306.98 L595.3,308.35 L597.3,309.72 L599.3,311.08 L600.8,312.11 L601.3,312.73 L603.3,315.19 L605.3,317.66 L607.3,320.13 L609.3,322.59 L611.3,325.06 L613.3,327.53 L615.3,329.99 L617.3,331.25 L619.3,332.51 L621.3,333.77 L623.3,335.03 L625.3,336.29 L627.3,337.55 L629.3,338.81 L629.8,339.12 L631.3,340.65 L633.3,342.69 L635.3,344.73 L637.3,346.76 L639.3,348.8 L641.3,350.84 L643.3,352.87 L644.3,353.89 L645.3,354.85 L647.3,356.77 L649.3,358.7 L651.3,360.62 L653.3,362.54 L655.3,364.47 L657.3,366.39 L658.8,367.83 L659.3,368.36 L661.3,370.51 L663.3,372.64 L665.3,374.74 L667.3,376.79 L669.3,378.8 L671.3,380.77 L673.3,382.76 L675.3,384.76 L677.3,386.78 L679.3,388.8 L681.3,390.84 L683.3,392.89 L685.3,394.95 L687.3,397.03 L689.3,399.12 L691.3,401.23 L693.3,403.34 L695.3,405.47 L697.3,407.62 L699.3,409.77 L701.3,411.93 L703.3,414.1 L705.3,416.28 L707.3,418.47 L709.3,420.66 L711.3,422.86 L713.3,425.07 L715.3,427.28 L717.3,429.5 L719.3,431.72 L721.3,433.95 L723.3,436.17 L725.3,438.4 L727.3,440.63 L729.3,442.87 L731.3,445.1 L733.3,447.34 L735.3,449.58 L737.3,451.83 L739.3,454.07 L741.3,456.32 L743.3,458.57 L745.3,460.83 L747.3,463.09 L749.3,465.35 L751.3,467.62 L753.3,469.89 L755.3,472.17 L757.3,474.45 L759.3,476.73 L761.3,479.02 L763.3,481.32 L765.3,483.62 L767.3,485.93 L769.3,488.24 L771.3,490.56 L773.3,492.89 L775.3,495.22 L777.3,497.56 L779.3,499.91 L781.3,502.26 L783.3,504.62 L785.3,506.99 L787.3,509.37 L789.3,511.75 L791.3,514.15 L793.3,516.55 L795.3,518.96 L797.3,521.38 L798.6,522.96" stroke="#0000ff" stroke-width="2.85" stroke-dasharray="4.7,3.66"/>
<path d="M121.3,78.48 L123.3,80.76 L125.3,83.01 L127.3,85.22 L129.3,87.41 L131.3,89.57 L133.3,91.7 L135.3,93.8 L137.3,95.86 L139.3,97.9 L141.3,99.9 L143.3,101.87 L145.3,103.8 L147.3,105.71 L149.3,107.58 L151.3,109.41 L153.3,111.21 L155.3,112.98 L157.3,114.71 L159.3,116.41 L161.3,118.07 L163.3,119.69 L165.3,121.28 L167.3,122.83 L169.3,124.35 L171.3,125.83 L173.3,127.27 L175.3,128.67 L177.3,130.04 L179.3,131.37 L181.3,132.66 L183.3,133.92 L185.3,135.13 L187.3,136.31 L189.3,137.44 L191.3,138.54 L193.3,139.6 L195.3,140.62 L197.3,141.6 L199.3,142.55 L201.3,143.45 L203.3,144.32 L205.3,145.15 L207.3,145.94 L209.3,146.7 L211.3,147.42 L213.3,148.1 L215.3,148.74 L217.3,149.35 L219.3,149.93 L221.3,150.47 L223.3,150.98 L225.3,151.46 L227.3,151.9 L229.3,152.32 L231.3,152.7 L233.3,153.06 L235.3,153.38 L237.3,153.68 L239.3,153.95 L241.3,154.2 L243.3,154.42 L245.3,154.62 L247.3,154.8 L249.3,154.95 L251.3,155.09 L253.3,155.2 L255.3,155.29 L257.3,155.37 L259.3,155.42 L261.3,155.46 L263.3,155.49 L265.3,155.49 L267.3,155.48 L269.3,155.45 L271.3,155.41 L273.3,155.36 L275.3,155.29 L277.3,155.2 L279.3,155.1 L281.3,154.99 L283.3,154.86 L285.3,154.73 L287.3,154.58 L289.3,154.42 L291.3,154.24 L293.3,154.06 L295.3,153.87 L297.3,153.66 L299.3,153.45 L301.3,153.22 L303.3,152.99 L305.3,152.75 L307.3,152.5 L309.3,152.25 L311.3,151.99 L313.3,151.73 L315.3,151.47 L317.3,151.2 L319.3,150.94 L321.3,150.67 L323.3,150.41 L325.3,150.14 L327.3,149.89 L329.3,149.63 L331.3,149.39 L333.3,149.14 L335.3,148.91 L337.3,148.69 L339.3,148.47 L341.3,148.27 L343.3,148.07 L345.3,147.89 L347.3,147.72 L349.3,147.57 L351.3,147.43 L353.3,147.3 L355.3,147.19 L357.3,147.09 L359.3,147 L361.3,146.93 L363.3,146.87 L365.3,146.83 L367.3,146.8 L369.3,146.78 L371.3,146.78 L373.3,146.79 L375.3,146.82 L377.3,146.86 L379.3,146.92 L381.3,146.99 L383.3,147.07 L385.3,147.18 L387.3,147.29 L389.3,147.43 L391.3,147.58 L393.3,147.74 L395.3,147.93 L397.3,148.13 L399.3,148.35 L401.3,148.6 L403.3,148.86 L405.3,149.15 L407.3,149.47 L409.3,149.81 L411.3,150.17 L413.3,150.56 L415.3,150.97 L417.3,151.42 L419.3,151.89 L421.3,152.38 L423.3,152.9 L425.3,153.45 L427.3,154.03 L429.3,154.63 L431.3,155.26 L433.3,155.92 L435.3,156.6 L437.3,157.3 L439.3,158.03 L441.3,158.81 L441.3,158.81 L443.3,159.61 L445.3,160.4 L447.3,161.19 L449.3,161.95 L451.3,162.67 L453.3,163.39 L455.3,164.12 L455.8,164.3 L457.3,165.14 L459.3,166.26 L461.3,167.38 L463.3,168.5 L465.3,169.62 L467.3,170.74 L469.3,171.85 L470.3,172.41 L471.3,172.92 L473.3,173.94 L475.3,174.96 L477.3,175.97 L479.3,176.99 L481.3,178 L483.3,179.02 L484.8,179.78 L485.3,180.05 L487.3,181.14 L489.3,182.23 L491.3,183.32 L493.3,184.41 L495.3,185.5 L497.3,186.59 L499.3,187.68 L499.3,187.68 L501.3,188.38 L503.3,189.08 L505.3,189.78 L507.3,190.48 L509.3,191.18 L511.3,191.88 L513.3,192.58 L513.8,192.75 L515.3,193.29 L517.3,194 L519.3,194.71 L521.3,195.43 L523.3,196.14 L525.3,196.85 L527.3,197.56 L528.3,197.91 L529.3,198.49 L531.3,199.63 L533.3,200.77 L535.3,201.91 L537.3,203.06 L539.3,204.2 L541.3,205.34 L542.8,206.2 L543.3,206.67 L545.3,208.59 L547.3,210.51 L549.3,212.43 L551.3,214.35 L553.3,216.27 L555.3,218.19 L557.3,220.1 L559.3,222.02 L561.3,223.94 L563.3,225.87 L565.3,227.79 L567.3,229.71 L569.3,231.63 L571.3,233.55 L571.8,234.02 L573.3,234.77 L575.3,235.77 L577.3,236.76 L579.3,237.76 L581.3,238.75 L583.3,239.74 L585.3,240.74 L586.3,241.24 L587.3,241.92 L589.3,243.29 L591.3,244.66 L593.3,246.03 L595.3,247.4 L597.3,248.77 L599.3,250.14 L600.8,251.16 L601.3,251.78 L603.3,254.25 L605.3,256.71 L607.3,259.18 L609.3,261.65 L611.3,264.12 L613.3,266.59 L615.3,269.05 L617.3,270.31 L619.3,271.57 L621.3,272.83 L623.3,274.09 L625.3,275.35 L627.3,276.61 L629.3,277.87 L629.8,278.19 L631.3,279.72 L633.3,281.76 L635.3,283.79 L637.3,285.83 L639.3,287.87 L641.3,289.91 L643.3,291.94 L644.3,292.96 L645.3,293.92 L647.3,295.85 L649.3,297.77 L651.3,299.69 L653.3,301.62 L655.3,303.54 L657.3,305.46 L658.8,306.91 L659.3,307.44 L661.3,309.59 L663.3,311.72 L665.3,313.82 L667.3,315.87 L669.3,317.88 L671.3,319.86 L673.3,321.84 L675.3,323.85 L677.3,325.86 L679.3,327.89 L681.3,329.92 L683.3,331.97 L685.3,334.04 L687.3,336.12 L689.3,338.21 L691.3,340.32 L693.3,342.43 L695.3,344.57 L697.3,346.71 L699.3,348.86 L701.3,351.02 L703.3,353.19 L705.3,355.37 L707.3,357.56 L709.3,359.76 L711.3,361.96 L713.3,364.17 L715.3,366.38 L717.3,368.6 L719.3,370.82 L721.3,373.05 L723.3,375.27 L725.3,377.5 L727.3,379.74 L729.3,381.97 L731.3,384.21 L733.3,386.45 L735.3,388.69 L737.3,390.93 L739.3,393.18 L741.3,395.43 L743.3,397.68 L745.3,399.94 L747.3,402.2 L749.3,404.46 L751.3,406.73 L753.3,409 L755.3,411.28 L757.3,413.56 L759.3,415.85 L761.3,418.14 L763.3,420.43 L765.3,422.74 L767.3,425.04 L769.3,427.36 L771.3,429.68 L773.3,432 L775.3,434.34 L777.3,436.68 L779.3,439.02 L781.3,441.38 L783.3,443.74 L785.3,446.11 L787.3,448.49 L789.3,450.87 L791.3,453.27 L793.3,455.67 L795.3,458.08 L797.3,460.5 L798.6,462.08" stroke="#bd0000" stroke-width="2.85" stroke-dasharray="4.7,1.9,1,1.9"/>
<path d="M121.3,186.38 L123.3,188.14 L125.3,189.86 L127.3,191.55 L129.3,193.2 L131.3,194.81 L133.3,196.38 L135.3,197.92 L137.3,199.41 L139.3,200.86 L141.3,202.28 L143.3,203.65 L145.3,204.99 L147.3,206.29 L149.3,207.54 L151.3,208.76 L153.3,209.94 L155.3,211.08 L157.3,212.17 L159.3,213.24 L161.3,214.26 L163.3,215.24 L165.3,216.19 L167.3,217.1 L169.3,217.97 L171.3,218.8 L173.3,219.6 L175.3,220.36 L177.3,221.08 L179.3,221.77 L181.3,222.42 L183.3,223.03 L185.3,223.61 L187.3,224.15 L189.3,224.66 L191.3,225.14 L193.3,225.58 L195.3,225.99 L197.3,226.36 L199.3,226.71 L201.3,227.02 L203.3,227.3 L205.3,227.55 L207.3,227.76 L209.3,227.95 L211.3,228.11 L213.3,228.25 L215.3,228.35 L217.3,228.43 L219.3,228.48 L221.3,228.51 L223.3,228.51 L225.3,228.49 L227.3,228.45 L229.3,228.39 L231.3,228.31 L233.3,228.21 L235.3,228.09 L237.3,227.95 L239.3,227.8 L241.3,227.63 L243.3,227.44 L245.3,227.25 L247.3,227.03 L249.3,226.81 L251.3,226.57 L253.3,226.33 L255.3,226.07 L257.3,225.81 L259.3,225.53 L261.3,225.25 L263.3,224.96 L265.3,224.66 L267.3,224.36 L269.3,224.04 L271.3,223.72 L273.3,223.4 L275.3,223.06 L277.3,222.72 L279.3,222.38 L281.3,222.03 L283.3,221.67 L285.3,221.31 L287.3,220.94 L289.3,220.57 L291.3,220.2 L293.3,219.82 L295.3,219.43 L297.3,219.04 L299.3,218.65 L301.3,218.26 L303.3,217.86 L305.3,217.46 L307.3,217.05 L309.3,216.65 L311.3,216.25 L313.3,215.85 L315.3,215.45 L317.3,215.05 L319.3,214.66 L321.3,214.27 L323.3,213.89 L325.3,213.52 L327.3,213.15 L329.3,212.79 L331.3,212.44 L333.3,212.1 L335.3,211.78 L337.3,211.46 L339.3,211.16 L341.3,210.87 L343.3,210.59 L345.3,210.34 L347.3,210.09 L349.3,209.87 L351.3,209.66 L353.3,209.47 L355.3,209.29 L357.3,209.13 L359.3,208.98 L361.3,208.86 L363.3,208.74 L365.3,208.65 L367.3,208.57 L369.3,208.5 L371.3,208.45 L373.3,208.42 L375.3,208.4 L377.3,208.41 L379.3,208.42 L381.3,208.46 L383.3,208.51 L385.3,208.58 L387.3,208.66 L389.3,208.77 L391.3,208.89 L393.3,209.02 L395.3,209.18 L397.3,209.36 L399.3,209.56 L401.3,209.78 L403.3,210.02 L405.3,210.29 L407.3,210.59 L409.3,210.91 L411.3,211.25 L413.3,211.63 L415.3,212.03 L417.3,212.45 L419.3,212.91 L421.3,213.39 L423.3,213.9 L425.3,214.44 L427.3,215.01 L429.3,215.6 L431.3,216.22 L433.3,216.86 L435.3,217.53 L437.3,218.23 L439.3,218.95 L441.3,219.72 L441.3,219.72 L443.3,220.51 L445.3,221.31 L447.3,222.09 L449.3,222.84 L451.3,223.56 L453.3,224.27 L455.3,225 L455.8,225.18 L457.3,226.01 L459.3,227.13 L461.3,228.25 L463.3,229.36 L465.3,230.48 L467.3,231.59 L469.3,232.71 L470.3,233.27 L471.3,233.77 L473.3,234.79 L475.3,235.81 L477.3,236.82 L479.3,237.83 L481.3,238.85 L483.3,239.86 L484.8,240.62 L485.3,240.89 L487.3,241.98 L489.3,243.07 L491.3,244.16 L493.3,245.25 L495.3,246.34 L497.3,247.43 L499.3,248.52 L499.3,248.52 L501.3,249.22 L503.3,249.92 L505.3,250.62 L507.3,251.32 L509.3,252.02 L511.3,252.72 L513.3,253.42 L513.8,253.59 L515.3,254.13 L517.3,254.84 L519.3,255.55 L521.3,256.27 L523.3,256.98 L525.3,257.69 L527.3,258.4 L528.3,258.76 L529.3,259.33 L531.3,260.47 L533.3,261.62 L535.3,262.76 L537.3,263.9 L539.3,265.04 L541.3,266.19 L542.8,267.04 L543.3,267.52 L545.3,269.44 L547.3,271.36 L549.3,273.28 L551.3,275.2 L553.3,277.12 L555.3,279.04 L557.3,280.96 L559.3,282.88 L561.3,284.8 L563.3,286.72 L565.3,288.64 L567.3,290.56 L569.3,292.48 L571.3,294.4 L571.8,294.88 L573.3,295.63 L575.3,296.62 L577.3,297.62 L579.3,298.61 L581.3,299.61 L583.3,300.6 L585.3,301.6 L586.3,302.1 L587.3,302.78 L589.3,304.15 L591.3,305.52 L593.3,306.89 L595.3,308.26 L597.3,309.63 L599.3,311 L600.8,312.02 L601.3,312.64 L603.3,315.11 L605.3,317.58 L607.3,320.05 L609.3,322.51 L611.3,324.98 L613.3,327.45 L615.3,329.92 L617.3,331.18 L619.3,332.44 L621.3,333.7 L623.3,334.96 L625.3,336.22 L627.3,337.48 L629.3,338.74 L629.8,339.05 L631.3,340.58 L633.3,342.62 L635.3,344.66 L637.3,346.7 L639.3,348.73 L641.3,350.77 L643.3,352.81 L644.3,353.83 L645.3,354.79 L647.3,356.71 L649.3,358.63 L651.3,360.56 L653.3,362.48 L655.3,364.4 L657.3,366.33 L658.8,367.77 L659.3,368.3 L661.3,370.45 L663.3,372.59 L665.3,374.68 L667.3,376.73 L669.3,378.75 L671.3,380.72 L673.3,382.7 L675.3,384.71 L677.3,386.72 L679.3,388.75 L681.3,390.78 L683.3,392.83 L685.3,394.9 L687.3,396.98 L689.3,399.07 L691.3,401.18 L693.3,403.29 L695.3,405.43 L697.3,407.57 L699.3,409.72 L701.3,411.88 L703.3,414.05 L705.3,416.23 L707.3,418.42 L709.3,420.61 L711.3,422.82 L713.3,425.02 L715.3,427.24 L717.3,429.45 L719.3,431.68 L721.3,433.9 L723.3,436.13 L725.3,438.36 L727.3,440.59 L729.3,442.83 L731.3,445.06 L733.3,447.3 L735.3,449.54 L737.3,451.79 L739.3,454.03 L741.3,456.28 L743.3,458.53 L745.3,460.79 L747.3,463.05 L749.3,465.31 L751.3,467.58 L753.3,469.85 L755.3,472.13 L757.3,474.41 L759.3,476.7 L761.3,478.99 L763.3,481.28 L765.3,483.59 L767.3,485.89 L769.3,488.21 L771.3,490.53 L773.3,492.85 L775.3,495.19 L777.3,497.53 L779.3,499.87 L781.3,502.23 L783.3,504.59 L785.3,506.96 L787.3,509.34 L789.3,511.72 L791.3,514.11 L793.3,516.52 L795.3,518.93 L797.3,521.35 L798.6,522.93" stroke="#bd0000" stroke-width="2.85" stroke-dasharray="4.7,1.9,1,1.9"/>
</g>
<path d="M611.9,66.55H663.2" stroke="#000" stroke-width="2.85" stroke-dasharray="1,1.93" fill="none"/>
<path d="M686.80,58.95 L686.15,59.55 L686.80,60.16 L687.45,59.55 L687.45,58.95 L686.80,58.34 L685.50,58.34 L684.20,58.95 L683.55,60.16 L683.55,71.05 M685.50,58.34 L684.85,58.95 L684.20,60.16 L684.20,71.05 M681.60,62.58 L686.80,62.58 M681.60,71.05 L686.15,71.05 M690.70,70.36 L690.70,75.95 M691.09,70.36 L691.09,75.95 M691.09,71.56 L691.87,70.76 L693.04,70.36 L693.82,70.36 L694.99,70.76 L695.38,71.56 L695.38,75.95 M693.82,70.36 L694.60,70.76 L694.99,71.56 L694.99,75.95 M689.53,70.36 L691.09,70.36 M689.53,75.95 L692.26,75.95 M693.82,75.95 L696.55,75.95 M699.28,67.56 L699.28,75.95 M699.67,67.56 L699.67,75.95 M698.11,67.56 L699.67,67.56 M698.11,75.95 L700.84,75.95 M704.22,63.79 L715.92,63.79 M704.22,67.42 L715.92,67.42 M722.42,60.77 L723.72,60.16 L725.67,58.34 L725.67,71.05 M725.02,58.95 L725.02,71.05 M722.42,71.05 L728.27,71.05 M737.37,58.34 L735.42,58.95 L734.12,60.77 L733.47,63.79 L733.47,65.60 L734.12,68.63 L735.42,70.44 L737.37,71.05 L738.67,71.05 L740.62,70.44 L741.92,68.63 L742.57,65.60 L742.57,63.79 L741.92,60.77 L740.62,58.95 L738.67,58.34 L737.37,58.34 M737.37,58.34 L736.07,58.95 L735.42,59.55 L734.77,60.77 L734.12,63.79 L734.12,65.60 L734.77,68.63 L735.42,69.84 L736.07,70.44 L737.37,71.05 M738.67,71.05 L739.97,70.44 L740.62,69.84 L741.27,68.63 L741.92,65.60 L741.92,63.79 L741.27,60.77 L740.62,59.55 L739.97,58.95 L738.67,58.34" fill="none" stroke="#000" stroke-width="1.6" stroke-linecap="round" stroke-linejoin="round"/>
<path d="M611.9,101.55H663.2" stroke="#0000ff" stroke-width="2.85" stroke-dasharray="4.7,3.66" fill="none"/>
<path d="M686.80,93.95 L686.15,94.55 L686.80,95.16 L687.45,94.55 L687.45,93.95 L686.80,93.34 L685.50,93.34 L684.20,93.95 L683.55,95.16 L683.55,106.05 M685.50,93.34 L684.85,93.95 L684.20,95.16 L684.20,106.05 M681.60,97.58 L686.80,97.58 M681.60,106.05 L686.15,106.05 M690.70,105.36 L690.70,110.95 M691.09,105.36 L691.09,110.95 M691.09,106.56 L691.87,105.76 L693.04,105.36 L693.82,105.36 L694.99,105.76 L695.38,106.56 L695.38,110.95 M693.82,105.36 L694.60,105.76 L694.99,106.56 L694.99,110.95 M689.53,105.36 L691.09,105.36 M689.53,110.95 L692.26,110.95 M693.82,110.95 L696.55,110.95 M699.28,102.56 L699.28,110.95 M699.67,102.56 L699.67,110.95 M698.11,102.56 L699.67,102.56 M698.11,110.95 L700.84,110.95 M704.22,98.79 L715.92,98.79 M704.22,102.42 L715.92,102.42 M721.12,95.77 L721.77,96.37 L721.12,96.97 L720.47,96.37 L720.47,95.77 L721.12,94.55 L721.77,93.95 L723.72,93.34 L726.32,93.34 L728.27,93.95 L728.92,94.55 L729.57,95.77 L729.57,96.97 L728.92,98.19 L726.97,99.39 L723.72,100.60 L722.42,101.21 L721.12,102.42 L720.47,104.23 L720.47,106.05 M726.32,93.34 L727.62,93.95 L728.27,94.55 L728.92,95.77 L728.92,96.97 L728.27,98.19 L726.32,99.39 L723.72,100.60 M720.47,104.84 L721.12,104.23 L722.42,104.23 L725.67,105.44 L727.62,105.44 L728.92,104.84 L729.57,104.23 M722.42,104.23 L725.67,106.05 L728.27,106.05 L728.92,105.44 L729.57,104.23 L729.57,103.02 M737.37,93.34 L735.42,93.95 L734.12,95.77 L733.47,98.79 L733.47,100.60 L734.12,103.63 L735.42,105.44 L737.37,106.05 L738.67,106.05 L740.62,105.44 L741.92,103.63 L742.57,100.60 L742.57,98.79 L741.92,95.77 L740.62,93.95 L738.67,93.34 L737.37,93.34 M737.37,93.34 L736.07,93.95 L735.42,94.55 L734.77,95.77 L734.12,98.79 L734.12,100.60 L734.77,103.63 L735.42,104.84 L736.07,105.44 L737.37,106.05 M738.67,106.05 L739.97,105.44 L740.62,104.84 L741.27,103.63 L741.92,100.60 L741.92,98.79 L741.27,95.77 L740.62,94.55 L739.97,93.95 L738.67,93.34" fill="none" stroke="#000" stroke-width="1.6" stroke-linecap="round" stroke-linejoin="round"/>
<path d="M611.9,138.3H663.2" stroke="#bd0000" stroke-width="2.85" stroke-dasharray="4.7,1.9,1,1.9" fill="none"/>
<path d="M686.80,130.70 L686.15,131.31 L686.80,131.91 L687.45,131.31 L687.45,130.70 L686.80,130.09 L685.50,130.09 L684.20,130.70 L683.55,131.91 L683.55,142.80 M685.50,130.09 L684.85,130.70 L684.20,131.91 L684.20,142.80 M681.60,134.33 L686.80,134.33 M681.60,142.80 L686.15,142.80 M690.70,142.11 L690.70,147.70 M691.09,142.11 L691.09,147.70 M691.09,143.31 L691.87,142.51 L693.04,142.11 L693.82,142.11 L694.99,142.51 L695.38,143.31 L695.38,147.70 M693.82,142.11 L694.60,142.51 L694.99,143.31 L694.99,147.70 M689.53,142.11 L691.09,142.11 M689.53,147.70 L692.26,147.70 M693.82,147.70 L696.55,147.70 M699.28,139.31 L699.28,147.70 M699.67,139.31 L699.67,147.70 M698.11,139.31 L699.67,139.31 M698.11,147.70 L700.84,147.70 M704.22,135.54 L715.92,135.54 M704.22,139.17 L715.92,139.17 M721.77,130.09 L720.47,136.15 M720.47,136.15 L721.77,134.94 L723.72,134.33 L725.67,134.33 L727.62,134.94 L728.92,136.15 L729.57,137.96 L729.57,139.17 L728.92,140.99 L727.62,142.20 L725.67,142.80 L723.72,142.80 L721.77,142.20 L721.12,141.59 L720.47,140.38 L720.47,139.78 L721.12,139.17 L721.77,139.78 L721.12,140.38 M725.67,134.33 L726.97,134.94 L728.27,136.15 L728.92,137.96 L728.92,139.17 L728.27,140.99 L726.97,142.20 L725.67,142.80 M721.77,130.09 L728.27,130.09 M721.77,130.70 L725.02,130.70 L728.27,130.09 M737.37,130.09 L735.42,130.70 L734.12,132.52 L733.47,135.54 L733.47,137.36 L734.12,140.38 L735.42,142.20 L737.37,142.80 L738.67,142.80 L740.62,142.20 L741.92,140.38 L742.57,137.36 L742.57,135.54 L741.92,132.52 L740.62,130.70 L738.67,130.09 L737.37,130.09 M737.37,130.09 L736.07,130.70 L735.42,131.31 L734.77,132.52 L734.12,135.54 L734.12,137.36 L734.77,140.38 L735.42,141.59 L736.07,142.20 L737.37,142.80 M738.67,142.80 L739.97,142.20 L740.62,141.59 L741.27,140.38 L741.92,137.36 L741.92,135.54 L741.27,132.52 L740.62,131.31 L739.97,130.70 L738.67,130.09" fill="none" stroke="#000" stroke-width="1.6" stroke-linecap="round" stroke-linejoin="round"/>
</svg>
</body></html>
